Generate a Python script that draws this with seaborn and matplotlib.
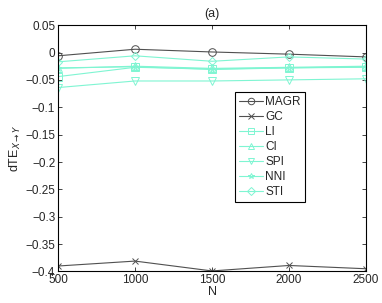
import matplotlib
matplotlib.use("Agg")
import matplotlib.pyplot as plt
import matplotlib.ticker as mticker
import seaborn as sns
import pandas as pd

# values
N = [500, 1000, 1500, 2000, 2500]
magr = [-0.006, 0.006, 0.001, -0.003, -0.008]
gc = [-0.390, -0.381, -0.399, -0.389, -0.395]
li = [-0.044, -0.027, -0.030, -0.028, -0.026]
ci = [-0.029, -0.025, -0.029, -0.027, -0.025]
spi = [-0.064, -0.052, -0.052, -0.050, -0.048]
nni = [-0.028, -0.026, -0.031, -0.028, -0.027]
sti = [-0.017, -0.006, -0.016, -0.008, -0.012]

names = ["MAGR", "GC", "LI", "CI", "SPI", "NNI", "STI"]
series = [magr, gc, li, ci, spi, nni, sti]
markers = ["o", "x", "s", "^", "v", "*", "D"]
GRAY = "#505050"
CYAN = "#7ff5d2"
colors = [GRAY, GRAY] + [CYAN] * 5

sns.set_style("ticks")
plt.rcParams["font.family"] = ["Liberation Sans", "DejaVu Sans"]
plt.rcParams["axes.unicode_minus"] = True

fig = plt.figure(figsize=(3.82, 3.03), dpi=100)
ax = fig.add_axes([0.152, 0.104, 0.806, 0.813])

for name, vals, mk, col in zip(names, series, markers, colors):
    df = pd.DataFrame({"N": N, "v": vals})
    ms = 5.5 if mk not in ("D", "x", "*") else 4.5
    sns.lineplot(data=df, x="N", y="v", ax=ax, color=col, lw=0.8,
                 marker=mk, markersize=ms, markerfacecolor="none",
                 markeredgecolor=col, markeredgewidth=0.7, label=name)

ax.set_xlim(500, 2500)
ax.set_ylim(-0.4, 0.05)
ax.set_xticks(N)
ax.set_yticks([0.05, 0, -0.05, -0.1, -0.15, -0.2, -0.25, -0.3, -0.35, -0.4])
ax.yaxis.set_major_formatter(mticker.FuncFormatter(lambda v, p: ("%g" % round(v, 2)).replace("-", "\u2212")))
ax.tick_params(direction="in", length=3, width=0.6, labelsize=8.5, top=True, right=True, pad=2)
for s in ax.spines.values():
    s.set_linewidth(0.8)
    s.set_color("black")

ax.set_xlabel("N", fontsize=9, labelpad=0)
ax.set_ylabel("dTE$_{X\\rightarrow Y}$", fontsize=9, labelpad=2)
ax.set_title("(a)", fontsize=9, pad=6)

leg = ax.legend(loc="upper left", bbox_to_anchor=(0.575, 0.728), fontsize=8.5,
                frameon=True, fancybox=False, edgecolor="black", framealpha=1,
                handlelength=2.0, handletextpad=0.2, borderpad=0.35,
                labelspacing=0.25, borderaxespad=0, markerscale=0.85)
leg.get_frame().set_linewidth(0.8)

fig.savefig("out.png", dpi=100)
